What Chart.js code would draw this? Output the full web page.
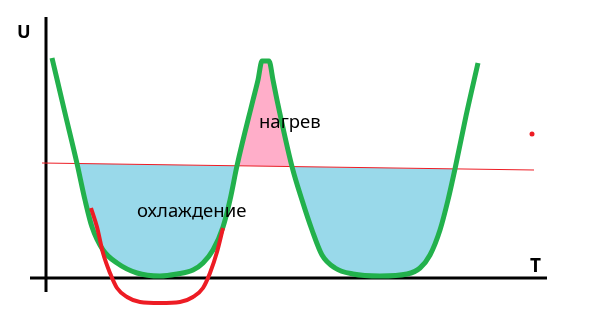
<!DOCTYPE html>
<html>
<head>
<meta charset="utf-8">
<script src="https://cdn.jsdelivr.net/npm/chart.js@4"></script>
<style>
  html, body { margin: 0; padding: 0; background: #fff; }
  #box { width: 599px; height: 313px; position: relative; }
</style>
</head>
<body>
<div id="box"><canvas id="plot"></canvas></div>
<script>
// potential U over T, origin = axes crossing
let greenT = [0.6, 1.85, 3.1, 3.9, 4.6, 5.7, 7.1, 9.1, 11.4, 13.1, 14.7, 15.7, 16.7, 17.7, 18.4, 19.1,
  20.7, 21.2, 21.6, 22.3, 22.7, 23.1, 24.6, 25.6, 26.6, 27.6, 28.9, 30.7, 33.4, 36.1, 37.4, 38.4, 39.4, 40.2, 40.9, 42.0, 43.2]
let greenU = [22.0, 16.7, 11.45, 7.8, 5.1, 2.8, 1.5, 0.5, 0.2, 0.4, 0.8, 1.5, 2.8, 5.1, 7.8, 11.22,
  17.8, 19.8, 21.7, 21.7, 19.8, 17.8, 11.14, 7.8, 4.8, 2.3, 1.0, 0.4, 0.2, 0.4, 1.0, 2.3, 4.8, 7.8, 10.91, 16.2, 21.5]

// level line (red, thin)
let levelT = [-0.4, 48.8]
let levelU = [11.5, 10.8]

// lower red curve
let redT = [4.5, 5.1, 5.7, 6.4, 7.1, 8.1, 9.4, 11.4, 13.4, 14.7, 15.7, 16.4, 17.1, 17.7]
let redU = [7.0, 5.1, 2.5, 0.5, -1.0, -1.9, -2.4, -2.5, -2.4, -1.9, -1.0, 0.5, 2.6, 5.0]

let dotT = [48.6]
let dotU = [14.4]

// axes ends
let axisT = [-1.6, 50.1]
let axisU = [26.1, -1.4]

let labels = [
  { text: 'U', t: -2.9, u: 24.0, font: 'bold 18px "Noto Sans"' },
  { text: 'T', t: 48.4, u: 0.6, font: 'bold 19px "Noto Sans"' },
  { text: 'нагрев', t: 21.3, u: 15.0, font: '18.5px "Noto Sans"' },
  { text: 'охлаждение', t: 9.1, u: 6.1, font: '18.5px "Noto Sans"' }
]

// view: 10 px per unit
let viewT = -4.6
let viewU = 27.8

const zip = (a, b) => a.map((v, i) => ({ x: v, y: b[i] }))

const green = zip(greenT, greenU)
// fill part: from first to last crossing of the level line
const fillPart = green.slice(2, 35)

const textPlugin = {
  id: 'texts',
  afterDatasetsDraw(chart) {
    const c = chart.ctx
    const xs = chart.scales.x
    const ys = chart.scales.y
    c.save()
    c.fillStyle = '#000'
    c.textBaseline = 'alphabetic'
    c.textAlign = 'left'
    for (const l of labels) {
      c.font = l.font
      c.fillText(l.text, xs.getPixelForValue(l.t), ys.getPixelForValue(l.u))
    }
    c.restore()
  }
}

const curve = { cubicInterpolationMode: 'monotone', pointRadius: 0, fill: false }

const ctx = document.getElementById('plot').getContext('2d')
const chart = new Chart(ctx, {
  type: 'line',
  data: {
    datasets: [
      { ...curve, data: zip(redT, redU), borderColor: '#ED1C24', borderWidth: 4 },
      { ...curve, data: green, borderColor: '#22B14C', borderWidth: 5 },
      { data: zip(levelT, levelU), borderColor: '#ED1C24', borderWidth: 1, pointRadius: 0, fill: false },
      {
        ...curve, data: fillPart, borderColor: 'transparent', borderWidth: 0,
        fill: { target: 2, above: '#FFAEC9', below: '#99D9EA' }
      },
      { data: [{ x: axisT[0], y: 0 }, { x: axisT[1], y: 0 }], borderColor: '#000', borderWidth: 3, pointRadius: 0, fill: false },
      { data: [{ x: 0, y: axisU[0] }, { x: 0, y: axisU[1] }], borderColor: '#000', borderWidth: 3, pointRadius: 0, fill: false },
      { data: zip(dotT, dotU), showLine: false, pointRadius: 2.5, pointBackgroundColor: '#ED1C24', pointBorderWidth: 0, fill: false }
    ]
  },
  options: {
    animation: false,
    responsive: true,
    maintainAspectRatio: false,
    layout: { padding: 0 },
    plugins: { legend: { display: false }, tooltip: { enabled: false } },
    scales: {
      x: { type: 'linear', display: false, min: viewT, max: viewT + 59.9 },
      y: { type: 'linear', display: false, min: viewU - 31.3, max: viewU }
    }
  },
  plugins: [textPlugin]
})

// chart area is inset a little for line overflow: keep 10 px per unit from the canvas edge
const a = chart.chartArea
chart.options.scales.x.min = viewT + a.left / 10
chart.options.scales.x.max = viewT + a.right / 10
chart.options.scales.y.max = viewU - a.top / 10
chart.options.scales.y.min = viewU - a.bottom / 10
chart.update()
</script>
</body>
</html>
